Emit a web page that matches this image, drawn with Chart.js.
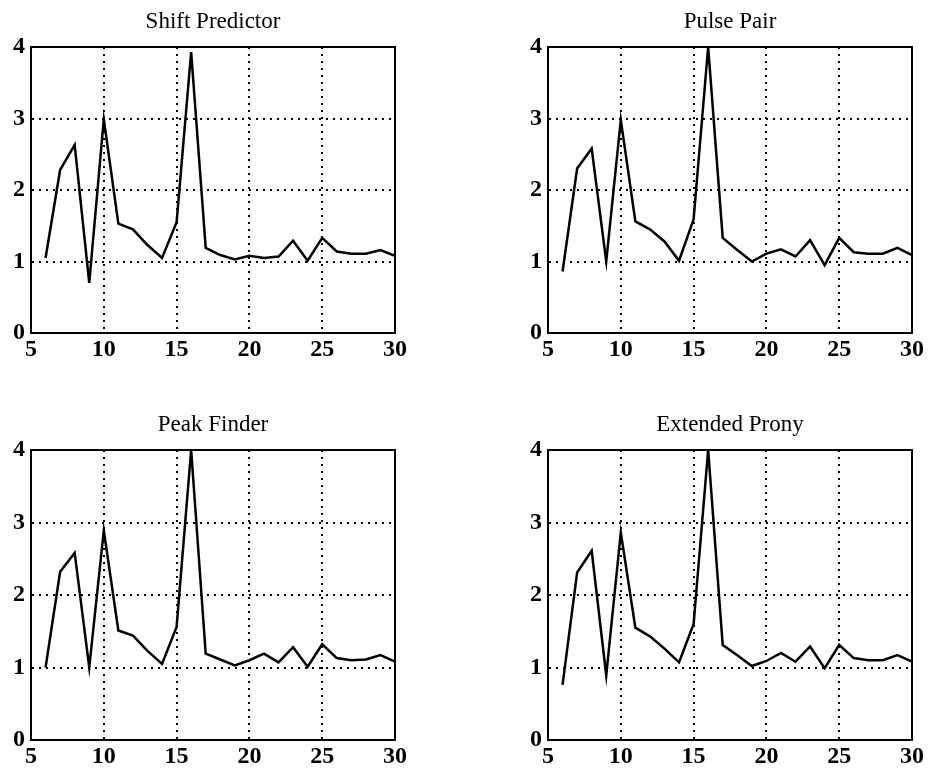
<!DOCTYPE html>
<html>
<head>
<meta charset="utf-8">
<script src="https://cdn.jsdelivr.net/npm/chart.js@4.4.1/dist/chart.umd.min.js"></script>
<style>
  html, body { margin: 0; padding: 0; background: #fff; overflow: hidden; }
  body { width: 929px; height: 769px; position: relative; }
  canvas { position: absolute; }
</style>
</head>
<body>
<canvas id="c1" width="426" height="370" style="left:0px;top:0px"></canvas>
<canvas id="c2" width="426" height="370" style="left:517px;top:0px"></canvas>
<canvas id="c3" width="426" height="371" style="left:0px;top:403px"></canvas>
<canvas id="c4" width="426" height="371" style="left:517px;top:403px"></canvas>
<script>
// x positions shared by all four panels
var xs = [6, 7, 8, 9, 10, 11, 12, 13, 14, 15, 16, 17, 18, 19, 20, 21, 22, 23, 24, 25, 26, 27, 28, 29, 30];

var titles = ["Shift Predictor", "Pulse Pair", "Peak Finder", "Extended Prony"];

var shiftPredictor = [1.05, 2.28, 2.63, 0.70, 2.99, 1.53, 1.45, 1.23, 1.05, 1.55, 3.93, 1.19, 1.09, 1.03, 1.08, 1.05, 1.07, 1.29, 1.01, 1.33, 1.14, 1.11, 1.11, 1.16, 1.08];
var pulsePair = [0.86, 2.30, 2.58, 1.00, 2.98, 1.56, 1.45, 1.28, 1.01, 1.59, 4.00, 1.33, 1.16, 1.00, 1.11, 1.17, 1.07, 1.30, 0.95, 1.33, 1.13, 1.11, 1.11, 1.19, 1.09];
var peakFinder = [1.00, 2.32, 2.58, 1.00, 2.89, 1.51, 1.44, 1.23, 1.05, 1.56, 4.00, 1.19, 1.11, 1.03, 1.10, 1.19, 1.07, 1.28, 1.01, 1.32, 1.13, 1.10, 1.11, 1.17, 1.08];
var extendedProny = [0.76, 2.31, 2.61, 0.89, 2.86, 1.55, 1.43, 1.26, 1.07, 1.60, 4.00, 1.31, 1.17, 1.02, 1.09, 1.20, 1.08, 1.29, 0.99, 1.31, 1.13, 1.10, 1.10, 1.17, 1.08];

var xTicks = [5, 10, 15, 20, 25, 30];
var yTicks = [0, 1, 2, 3, 4];

var series = [shiftPredictor, pulsePair, peakFinder, extendedProny];

// frame round the plot area (top and right edges are not drawn by the axes)
var framePlugin = {
  id: 'frame',
  afterDraw: function (chart) {
    var a = chart.chartArea;
    var ctx = chart.ctx;
    ctx.save();
    ctx.strokeStyle = '#000';
    ctx.lineWidth = 2;
    ctx.strokeRect(a.left, a.top, a.right - a.left, a.bottom - a.top);
    ctx.restore();
  }
};

function gridColor(edges) {
  return function (c) {
    if (!c.tick) return 'rgba(0,0,0,0)';
    return edges.indexOf(c.tick.value) >= 0 ? 'rgba(0,0,0,0)' : '#000';
  };
}

function makeChart(id, title, ys, bottomH) {
  var pts = xs.map(function (x, i) { return { x: x, y: ys[i] }; });
  var tickFont = { family: "'Liberation Serif', 'DejaVu Serif', serif", size: 24, weight: 'bold' };

  new Chart(document.getElementById(id).getContext('2d'), {
    type: 'line',
    data: {
      datasets: [{
        data: pts,
        borderColor: '#000',
        borderWidth: 2.5,
        pointRadius: 0,
        tension: 0,
        fill: false
      }]
    },
    options: {
      responsive: false,
      animation: false,
      layout: { padding: 0 },
      plugins: {
        legend: { display: false },
        tooltip: { enabled: false },
        title: {
          display: true,
          text: title,
          color: '#000',
          font: { family: "'Liberation Serif', 'DejaVu Serif', serif", size: 23, weight: 'normal' },
          padding: { top: 8, bottom: 11.4 }
        }
      },
      scales: {
        x: {
          type: 'linear',
          min: 5,
          max: 30,
          afterBuildTicks: function (s) { s.ticks = xTicks.map(function (v) { return { value: v }; }); },
          afterFit: function (s) { s.height = bottomH; },
          ticks: { color: '#000', font: tickFont, padding: 2, maxRotation: 0, autoSkip: false },
          grid: { color: gridColor([5, 30]), lineWidth: 2, drawTicks: false },
          border: { display: true, color: '#000', width: 2, dash: [2, 5] }
        },
        y: {
          min: 0,
          max: 4,
          afterBuildTicks: function (s) { s.ticks = yTicks.map(function (v) { return { value: v }; }); },
          afterFit: function (s) { s.width = 31; },
          ticks: { color: '#000', font: tickFont, padding: 6 },
          grid: { color: gridColor([0, 4]), lineWidth: 2, drawTicks: false },
          border: { display: true, color: '#000', width: 2, dash: [2, 5] }
        },
        // empty right axis, keeps the plot centred under the title
        yRight: {
          position: 'right',
          min: 0,
          max: 4,
          afterFit: function (s) { s.width = 31; },
          ticks: { display: false },
          grid: { display: false, drawTicks: false },
          border: { display: false }
        }
      }
    },
    plugins: [framePlugin]
  });
}

makeChart('c1', titles[0], series[0], 37);
makeChart('c2', titles[1], series[1], 37);
makeChart('c3', titles[2], series[2], 34);
makeChart('c4', titles[3], series[3], 34);
</script>
</body>
</html>
